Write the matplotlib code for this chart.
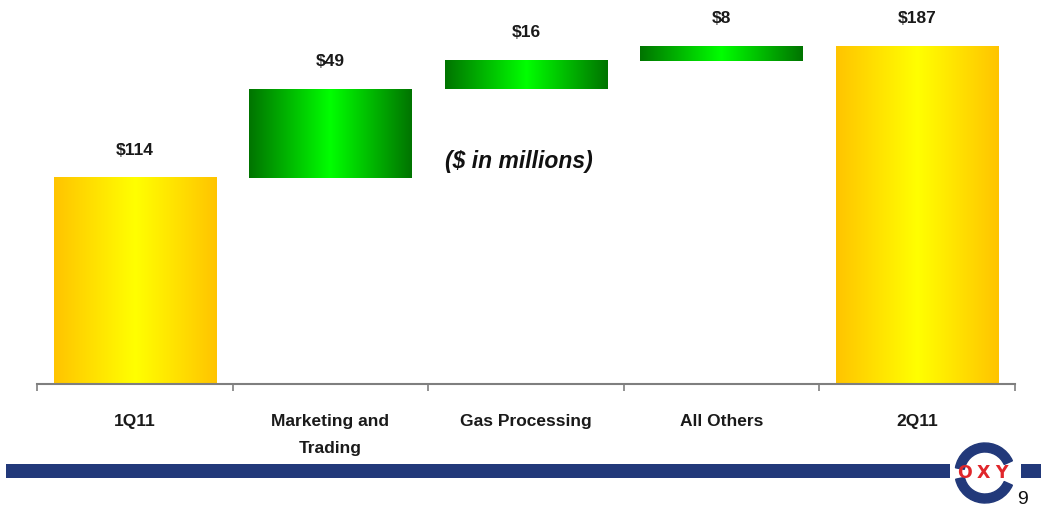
import numpy as np
import matplotlib.pyplot as plt
from matplotlib.colors import LinearSegmentedColormap
from matplotlib.patches import Wedge, Rectangle

# waterfall data ($ millions)
categories = ['1Q11', 'Marketing and\nTrading', 'Gas Processing', 'All Others', '2Q11']
changes = [114, 49, 16, 8, 187]
kinds = ['total', 'delta', 'delta', 'delta', 'total']
value_labels = ['$114', '$49', '$16', '$8', '$187']

W, H = 1041, 512
fig = plt.figure(figsize=(W / 100, H / 100), dpi=100)
ax = fig.add_axes([37 / W, 0.25, (1015 - 37) / W, 0.75])

yellow = LinearSegmentedColormap.from_list('yel', ['#ffc400', '#ffff00', '#ffc400'])
green = LinearSegmentedColormap.from_list('grn', ['#007400', '#00ff00', '#007400'])
grad = np.linspace(0, 1, 256).reshape(1, -1)

bw = 0.83
running = 0
for i, (v, k, lab) in enumerate(zip(changes, kinds, value_labels)):
    if k == 'total':
        lo, hi = 0, v
        running = v
        cmap = yellow
    else:
        lo, hi = running, running + v
        running = hi
        cmap = green
    ax.imshow(grad, cmap=cmap, aspect='auto', interpolation='bicubic',
              extent=(i - bw / 2, i + bw / 2, lo, hi), zorder=2)
    ax.text(i, hi + 13, lab, ha='center', va='baseline', fontsize=12.5,
            fontweight='bold', family='Liberation Sans', color='#1a1a1a')

ax.set_xlim(-0.5, 4.5)
ax.set_ylim(0, 212.5)
for s in ['top', 'right', 'left']:
    ax.spines[s].set_visible(False)
ax.spines['bottom'].set_color('#7f7f7f')
ax.spines['bottom'].set_linewidth(1.5)
ax.set_yticks([])
ax.set_xticks(np.arange(-0.5, 5, 1))
ax.set_xticklabels([])
ax.tick_params(axis='x', direction='out', length=5, color='#7f7f7f', width=1.2)
for i, c in enumerate(categories):
    ax.text(i, -16.7, c, ha='center', va='top', fontsize=12.5, fontweight='bold',
            family='Liberation Sans', color='#1a1a1a', linespacing=2.0)

ax.text(1.586, 123, '($ in millions)', ha='left', va='center', fontsize=16.5,
        fontweight='bold', fontstyle='italic', family='Liberation Sans', color='#111111')

# footer band
navy = '#22397a'
fig.add_artist(Rectangle((6 / W, 1 - 478 / H), (950 - 6) / W, 14 / H,
                         transform=fig.transFigure, color=navy, lw=0))
fig.add_artist(Rectangle((1021 / W, 1 - 478 / H), (W - 1021) / W, 14 / H,
                         transform=fig.transFigure, color=navy, lw=0))

# logo
lax = fig.add_axes([(985 - 35) / W, 1 - (473 + 35) / H, 70 / W, 70 / H])
lax.set_xlim(-35, 35)
lax.set_ylim(-35, 35)
lax.set_aspect('equal')
lax.axis('off')
lax.add_patch(Wedge((0, 0), 30, 24, 170, width=9, color=navy))
lax.add_patch(Wedge((0, 0), 30, 192, 336, width=9, color=navy))
for dx, ch in zip([-20, -2, 16], 'OXY'):
    lax.text(dx, 0, ch, ha='center', va='center', fontsize=12.5, fontweight='heavy',
             color='#e0262b', family='DejaVu Sans')

fig.text(1022 / W, 1 - 499 / H, '9', ha='center', va='center', fontsize=14,
         family='Liberation Sans', color='#111111')

fig.savefig('out.png', dpi=100)
